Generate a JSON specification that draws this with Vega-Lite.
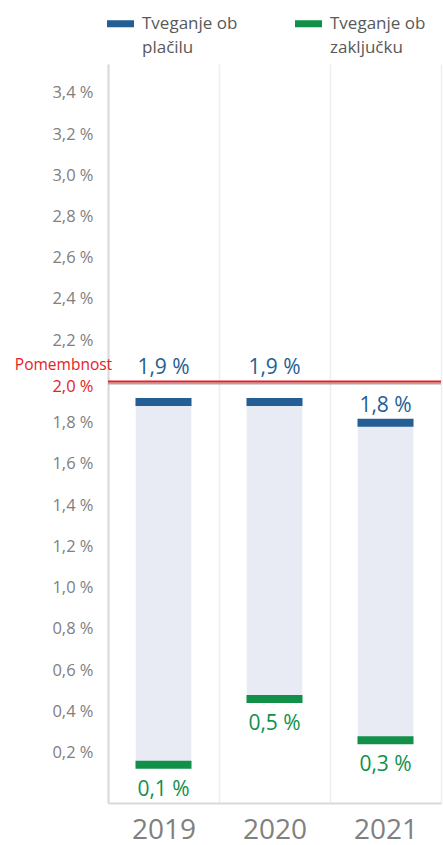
{
  "$schema": "https://vega.github.io/schema/vega-lite/v6.json",
  "width": 333,
  "height": 739,
  "autosize": {"type": "none"},
  "padding": {"left": 108, "top": 64, "right": 2, "bottom": 42},
  "background": "white",
  "config": {"view": {"stroke": null}, "font": "Open Sans"},
  "datasets": {
    "risk": [
      {"year": "2019", "series": "Tveganje ob plačilu", "value": 1.9, "label": "1,9 %"},
      {"year": "2020", "series": "Tveganje ob plačilu", "value": 1.9, "label": "1,9 %"},
      {"year": "2021", "series": "Tveganje ob plačilu", "value": 1.8, "label": "1,8 %"},
      {"year": "2019", "series": "Tveganje ob zaključku", "value": 0.14, "label": "0,1 %"},
      {"year": "2020", "series": "Tveganje ob zaključku", "value": 0.46, "label": "0,5 %"},
      {"year": "2021", "series": "Tveganje ob zaključku", "value": 0.26, "label": "0,3 %"}
    ],
    "threshold": [{"name": "Pomembnost", "value": 2.0}]
  },
  "layer": [
    {
      "data": {"name": "risk"},
      "transform": [{"pivot": "series", "value": "value", "groupby": ["year"]}],
      "mark": {"type": "bar", "color": "#E8EBF4", "width": {"band": 0.5}},
      "encoding": {
        "x": {
          "field": "year",
          "type": "nominal",
          "scale": {"paddingInner": 0, "paddingOuter": 0},
          "axis": {
            "title": null,
            "orient": "bottom",
            "ticks": false,
            "tickBand": "extent",
            "grid": true,
            "gridColor": "#EEEEEE",
            "gridWidth": 1.5,
            "domainColor": "#D9D9D9",
            "domainWidth": 2,
            "labelFontSize": 28,
            "labelColor": "#808080",
            "labelBaseline": "alphabetic",
            "labelPadding": 35,
            "labelAngle": 0
          }
        },
        "y": {
          "field": "Tveganje ob zaključku",
          "type": "quantitative",
          "scale": {"domain": [-0.045, 3.54], "nice": false, "zero": false},
          "axis": {
            "title": "Pomembnost",
            "titleAngle": 0,
            "titleAlign": "center",
            "titleBaseline": "middle",
            "titleX": -45,
            "titleY": 300,
            "titleColor": "#E42128",
            "titleFontSize": 15.5,
            "titleFontWeight": "normal",
            "values": [0.2, 0.4, 0.6, 0.8, 1.0, 1.2, 1.4, 1.6, 1.8, 2.0, 2.2, 2.4, 2.6, 2.8, 3.0, 3.2, 3.4],
            "labelExpr": "replace(format(datum.value, '.1f'), '.', ',') + ' %'",
            "labelColor": {"condition": {"test": "datum.value == 2", "value": "#E42128"}, "value": "#808080"},
            "labelOffset": {"condition": {"test": "datum.value == 2", "value": 5}, "value": 0},
            "labelFontSize": 16.5,
            "ticks": false,
            "grid": false,
            "domainColor": "#D9D9D9",
            "domainWidth": 2,
            "labelPadding": 15
          }
        },
        "y2": {"field": "Tveganje ob plačilu"}
      }
    },
    {
      "data": {"name": "risk"},
      "mark": {"type": "tick", "thickness": 8, "size": 56, "opacity": 1},
      "encoding": {
        "x": {"field": "year", "type": "nominal"},
        "y": {"field": "value", "type": "quantitative"},
        "color": {
          "field": "series",
          "type": "nominal",
          "scale": {"domain": ["Tveganje ob plačilu", "Tveganje ob zaključku"], "range": ["#245E94", "#11904A"]},
          "legend": {
            "title": null,
            "orient": "none",
            "legendX": -1,
            "legendY": -54,
            "direction": "horizontal",
            "padding": 0,
            "symbolType": "M-1,-0.26H1V0.26H-1Z",
            "symbolSize": 729,
            "symbolStrokeWidth": 0,
            "symbolOpacity": 1,
            "labelFontSize": 17,
            "labelColor": "#595959",
            "labelLimit": 300,
            "labelOffset": 8,
            "columnPadding": 57,
            "labelExpr": "datum.label == 'Tveganje ob plačilu' ? ['Tveganje ob', 'plačilu'] : ['Tveganje ob', 'zaključku']",
            "encode": {"labels": {"update": {"lineHeight": {"value": 24}}}}
          }
        }
      }
    },
    {
      "data": {"name": "risk"},
      "transform": [{"filter": "datum.series == 'Tveganje ob plačilu' && datum.year != '2021'"}],
      "mark": {"type": "text", "dy": -34, "fontSize": 21, "color": "#245E94", "baseline": "middle"},
      "encoding": {
        "x": {"field": "year", "type": "nominal"},
        "y": {"field": "value", "type": "quantitative"},
        "text": {"field": "label"}
      }
    },
    {
      "data": {"name": "risk"},
      "transform": [{"filter": "datum.series == 'Tveganje ob plačilu' && datum.year == '2021'"}],
      "mark": {"type": "text", "dy": -17, "fontSize": 21, "color": "#245E94", "baseline": "middle"},
      "encoding": {
        "x": {"field": "year", "type": "nominal"},
        "y": {"field": "value", "type": "quantitative"},
        "text": {"field": "label"}
      }
    },
    {
      "data": {"name": "risk"},
      "transform": [{"filter": "datum.series == 'Tveganje ob zaključku'"}],
      "mark": {"type": "text", "dy": 25, "fontSize": 21, "color": "#11904A", "baseline": "middle"},
      "encoding": {
        "x": {"field": "year", "type": "nominal"},
        "y": {"field": "value", "type": "quantitative"},
        "text": {"field": "label"}
      }
    },
    {
      "data": {"name": "threshold"},
      "mark": {"type": "rule", "color": "#A6A6A6", "strokeWidth": 2, "yOffset": 2},
      "encoding": {"y": {"field": "value", "type": "quantitative"}}
    },
    {
      "data": {"name": "threshold"},
      "mark": {"type": "rule", "color": "#E42128", "strokeWidth": 2},
      "encoding": {"y": {"field": "value", "type": "quantitative"}}
    }
  ]
}
